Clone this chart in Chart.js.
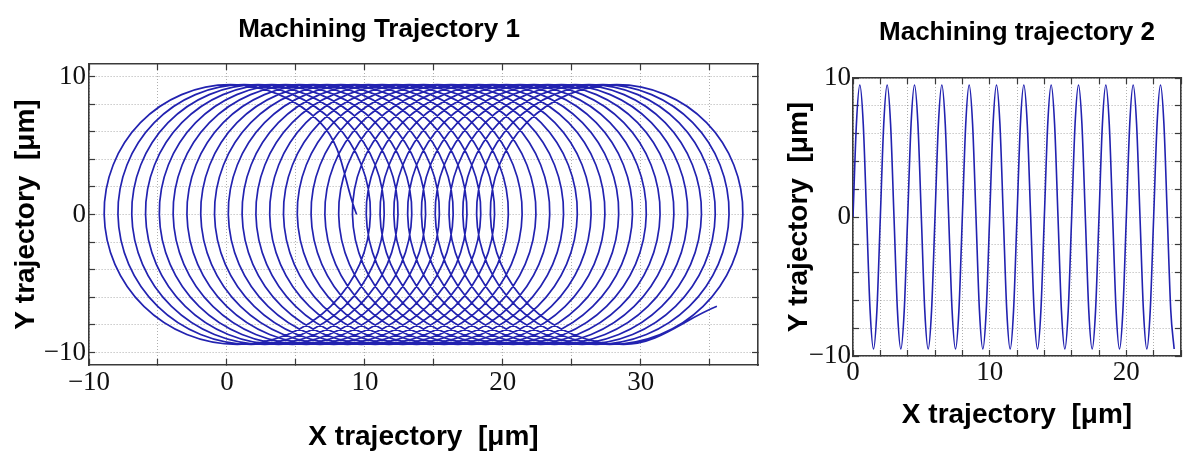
<!DOCTYPE html>
<html>
<head>
<meta charset="utf-8">
<title>Machining trajectories</title>
<script src="https://cdn.jsdelivr.net/npm/chart.js@4.4.1/dist/chart.umd.min.js"></script>
<style>
  html, body { margin: 0; padding: 0; background: #fff; }
  #wrap { position: relative; width: 1188px; height: 455px; overflow: hidden; }
  #chart1 { position: absolute; left: 0; top: 0; }
  #chart2 { position: absolute; left: 775px; top: 0; }
</style>
</head>
<body>
<div id="wrap">
  <canvas id="chart1" width="882" height="455"></canvas>
  <canvas id="chart2" width="413" height="455"></canvas>
</div>
<script>

/********************************/
/***** DATA *****/
/********************************/

// trajectory 1 : one turn per loop, the loop start drifts +1 um each turn
const loopStarts = [0, 1, 2, 3, 4, 5, 6, 7, 8, 9, 10, 11, 12, 13, 14, 15, 16, 17, 18, 19, 20, 21, 22, 23, 24, 25, 26, 27, 28]
// points of one turn, relative to the loop start
const turnDx = [9.4, 6.77, 0.25, -6.27, -8.9, -6.02, 0.75, 7.52]
const turnDy = [0, 6.65, 9.4, 6.65, 0, -6.65, -9.4, -6.65]
const lastTurnSteps = 8

// trajectory 2 : one wave per 2 um
const waveStarts = [0, 2, 4, 6, 8, 10, 12, 14, 16, 18, 20, 22]
const waveDx = [0, 0.25, 0.5, 0.75, 1, 1.25, 1.5, 1.75]
const waveDy = [0, 6.7, 9.5, 6.7, 0, -6.7, -9.5, -6.7]
const lastWaveSteps = 7

// tick labels
const x1TickLabels = [-10, 0, 10, 20, 30]
const y1TickLabels = [-10, 0, 10]
const x2TickLabels = [0, 10, 20]
const y2TickLabels = [-10, 0, 10]

/********************************/
/***** HELPERS *****/
/********************************/

const LINE_COLOR = '#2222b0'
const GRID_COLOR = 'rgba(110, 110, 110, 0.55)'
const FRAME_COLOR = '#3a3a3a'

_buildPath = (starts, dx, dy, lastSteps) => {
  let pts = []
  starts.forEach((s, i) => {
    const n = i === starts.length - 1 ? lastSteps : dx.length
    for (let k = 0; k < n; k++) {
      pts.push({x: s + dx[k], y: dy[k]})
    }
  })
  return pts
}

_fmt = (v) => v < 0 ? '\u2212' + Math.abs(v) : String(v)

_mainAxis = (cfg) => ({
  type: 'linear',
  position: cfg.position,
  min: cfg.min,
  max: cfg.max,
  ticks: {
    stepSize: cfg.step,
    includeBounds: false,
    autoSkip: false,
    maxRotation: 0,
    padding: cfg.pad,
    color: '#111',
    font: {family: '"Liberation Serif", "Times New Roman", serif', size: 27},
    callback: (v) => cfg.labels.includes(v) ? _fmt(v) : ''
  },
  grid: {
    color: GRID_COLOR,
    lineWidth: 1,
    drawTicks: true,
    tickLength: -6,
    tickColor: FRAME_COLOR,
    tickWidth: 1.2
  },
  border: {display: true, color: FRAME_COLOR, width: 1.6, dash: [1, 2]},
  title: {
    display: true,
    text: cfg.title,
    color: '#000',
    font: {family: '"Liberation Sans", Arial, sans-serif', size: 28, weight: 'bold', lineHeight: 1.2},
    padding: cfg.titlePad
  },
  afterFit: cfg.fit
})

_sideAxis = (cfg) => ({
  type: 'linear',
  position: cfg.position,
  min: cfg.min,
  max: cfg.max,
  ticks: {display: false, stepSize: cfg.step, includeBounds: false},
  grid: {drawOnChartArea: false, drawTicks: true, tickLength: -6, tickColor: FRAME_COLOR, tickWidth: 1.2},
  border: {display: true, color: FRAME_COLOR, width: 1.6},
  afterFit: (s) => {
    if (cfg.position === 'top') s.height = 0
    else s.width = 0
  }
})

_titleOpts = (text, full, pad) => ({
  display: true,
  text: text,
  fullSize: full,
  color: '#000',
  font: {family: '"Liberation Sans", Arial, sans-serif', size: 26, weight: 'bold', lineHeight: '28px'},
  padding: pad
})

/********************************/
/***** CHART 1 *****/
/********************************/

new Chart(document.getElementById('chart1'), {
  type: 'scatter',
  data: {
    datasets: [{
      data: _buildPath(loopStarts, turnDx, turnDy, lastTurnSteps),
      showLine: true,
      borderColor: LINE_COLOR,
      borderWidth: 1.7,
      tension: 0.375,
      pointRadius: 0,
      fill: false
    }]
  },
  options: {
    responsive: false,
    animation: false,
    events: [],
    layout: {padding: {left: 0, right: 124, top: 0, bottom: 0}},
    plugins: {
      legend: {display: false},
      tooltip: {enabled: false},
      title: _titleOpts('Machining Trajectory 1', true, {top: 16, bottom: 20})
    },
    scales: {
      x: _mainAxis({position: 'bottom', min: -10, max: 38.5, step: 5, pad: 8, labels: x1TickLabels,
        title: 'X trajectory  [\u03bcm]', titlePad: {top: 0, bottom: 1}, fit: (s) => { s.height = 90 }}),
      y: _mainAxis({position: 'left', min: -10.9, max: 10.9, step: 2, pad: 9, labels: y1TickLabels,
        title: 'Y trajectory  [\u03bcm]', titlePad: {top: 9, bottom: 0}, fit: (s) => { s.width = 89 }}),
      xTop: _sideAxis({position: 'top', min: -10, max: 38.5, step: 5}),
      yRight: _sideAxis({position: 'right', min: -10.9, max: 10.9, step: 2})
    }
  }
})

/********************************/
/***** CHART 2 *****/
/********************************/

new Chart(document.getElementById('chart2'), {
  type: 'line',
  data: {
    datasets: [{
      data: _buildPath(waveStarts, waveDx, waveDy, lastWaveSteps),
      borderColor: LINE_COLOR,
      borderWidth: 1.6,
      cubicInterpolationMode: 'monotone',
      pointRadius: 0,
      fill: false
    }]
  },
  options: {
    responsive: false,
    animation: false,
    events: [],
    layout: {padding: {left: 0, right: 3, top: 0, bottom: 0}},
    plugins: {
      legend: {display: false},
      tooltip: {enabled: false},
      title: _titleOpts('Machining trajectory 2', false, {top: 19, bottom: 31})
    },
    scales: {
      x: _mainAxis({position: 'bottom', min: 0, max: 24, step: 2, pad: 7, labels: x2TickLabels,
        title: 'X trajectory  [\u03bcm]', titlePad: {top: 0, bottom: 23}, fit: (s) => { s.height = 99 }}),
      y: _mainAxis({position: 'left', min: -10, max: 10, step: 2, pad: 8, labels: y2TickLabels,
        title: 'Y trajectory  [\u03bcm]', titlePad: {top: 7, bottom: 0}, fit: (s) => { s.width = 78 }}),
      xTop: _sideAxis({position: 'top', min: 0, max: 24, step: 2}),
      yRight: _sideAxis({position: 'right', min: -10, max: 10, step: 2})
    }
  }
})

</script>
</body>
</html>
